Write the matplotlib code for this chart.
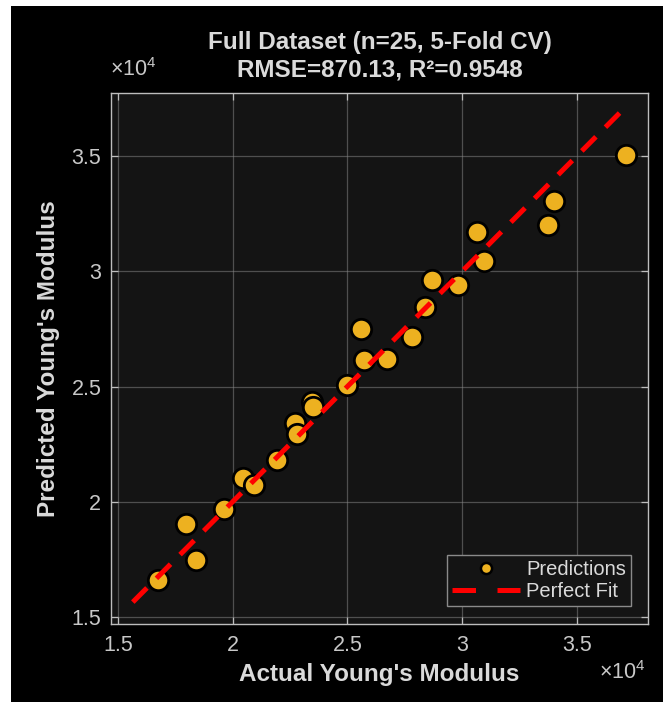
"""Cross-validated predictions vs. measured Young's modulus (dark theme)."""

import matplotlib

matplotlib.use("Agg")
import matplotlib.pyplot as plt
from matplotlib.lines import Line2D
from matplotlib.patches import Rectangle
from matplotlib.ticker import FuncFormatter, MultipleLocator

plt.rcParams["font.family"] = ["Liberation Sans", "DejaVu Sans"]
plt.rcParams["mathtext.fontset"] = "custom"
plt.rcParams["mathtext.rm"] = "Liberation Sans"

# Measured vs. predicted modulus for each held-out sample
actual = [
    16760, 17950, 18400, 19620, 20460, 20930, 21920, 22720, 22790, 23470,
    23510, 24970, 25610, 25740, 26740, 27830, 28380, 28670, 29830, 30660,
    30940, 33760, 34010, 37130,
]
predicted = [
    16630, 19030, 17470, 19670, 21040, 20720, 21810, 23430, 22940, 24340,
    24120, 25060, 27500, 26170, 26200, 27160, 28430, 29640, 29400, 31700,
    30430, 32010, 33050, 35060,
]
fit_range = [15650, 37100]

title_lines = ["Full Dataset (n=25, 5-Fold CV)", "RMSE=870.13, R\u00b2=0.9548"]
x_label = "Actual Young's Modulus"
y_label = "Predicted Young's Modulus"
x_limits = (14700, 38100)
y_limits = (14700, 37730)

FG = "#dadada"
TICK = "#c8c8c8"
MARKER = "#EDB120"

fig = plt.figure(figsize=(6.63, 7.02), dpi=100)
fig.patch.set_facecolor("white")
fig.add_artist(
    Rectangle((11 / 663, 0), 1 - 11 / 663, 1 - 6 / 702,
              transform=fig.transFigure, facecolor="black", edgecolor="none",
              zorder=-10)
)

ax = fig.add_axes([111 / 663, 1 - 624 / 702, 537 / 663, 531 / 702])
ax.set_facecolor("#141414")

ax.scatter(actual, predicted, s=215, color=MARKER, edgecolors="black",
           linewidths=2.0, zorder=3)
ax.plot(fit_range, fit_range, color="#ff0000", lw=3.6, dashes=(4.0, 2.7),
        solid_capstyle="butt", dash_capstyle="butt", zorder=4)

ax.set_xlim(*x_limits)
ax.set_ylim(*y_limits)
ax.xaxis.set_major_locator(MultipleLocator(5000))
ax.yaxis.set_major_locator(MultipleLocator(5000))
fmt = FuncFormatter(lambda v, _: f"{v / 1e4:g}")
ax.xaxis.set_major_formatter(fmt)
ax.yaxis.set_major_formatter(fmt)

ax.grid(True, color="#8a8a8a", alpha=0.5, lw=0.9)
ax.set_axisbelow(True)
for spine in ax.spines.values():
    spine.set_color("#bdbdbd")
    spine.set_linewidth(1.0)
ax.tick_params(axis="both", direction="in", length=5, width=0.9,
               color="#bdbdbd", labelcolor=TICK, labelsize=15.5,
               top=True, right=True)
ax.tick_params(axis="x", pad=8)
ax.tick_params(axis="y", pad=7)

ax.set_xlabel(x_label, fontsize=17.5, fontweight="bold", color=FG, va="center")
ax.xaxis.set_label_coords(0.5, -(674 - 624) / 531)
ax.set_ylabel(y_label, fontsize=17.5, fontweight="bold", color=FG, va="center")
ax.yaxis.set_label_coords(-(111 - 49) / 537, 0.5)

fig.text(379.5 / 663, 1 - 42 / 702, title_lines[0], ha="center", va="center",
         fontsize=17.5, fontweight="bold", color=FG)
fig.text(379.5 / 663, 1 - 70 / 702, title_lines[1], ha="center", va="center",
         fontsize=17.5, fontweight="bold", color=FG)

fig.text(110 / 663, 1 - 70 / 702, r"$\times10^{4}$", ha="left", va="center",
         fontsize=15.5, color=TICK)
fig.text(646 / 663, 1 - 673 / 702, r"$\times10^{4}$", ha="right", va="center",
         fontsize=15.5, color=TICK)

handles = [
    Line2D([], [], ls="none", marker="o", markersize=8, color=MARKER,
           markeredgecolor="black", markeredgewidth=1.8),
    Line2D([], [], color="#ff0000", lw=3.6, dashes=(4.7, 4.3)),
]
leg = ax.legend(handles, ["Predictions", "Perfect Fit"], loc="lower right",
                bbox_to_anchor=(631 / 537 - 111 / 537, (624 - 606) / 531),
                fontsize=14.5, frameon=True, fancybox=False, framealpha=1.0,
                borderpad=0.25, labelspacing=0.15, handlelength=3.4,
                handletextpad=0.3, borderaxespad=0)
leg.get_frame().set_facecolor("#141414")
leg.get_frame().set_edgecolor("#8a8a8a")
leg.get_frame().set_linewidth(1.0)
for txt in leg.get_texts():
    txt.set_color(FG)

fig.savefig("out.png", dpi=100, facecolor=fig.get_facecolor())
